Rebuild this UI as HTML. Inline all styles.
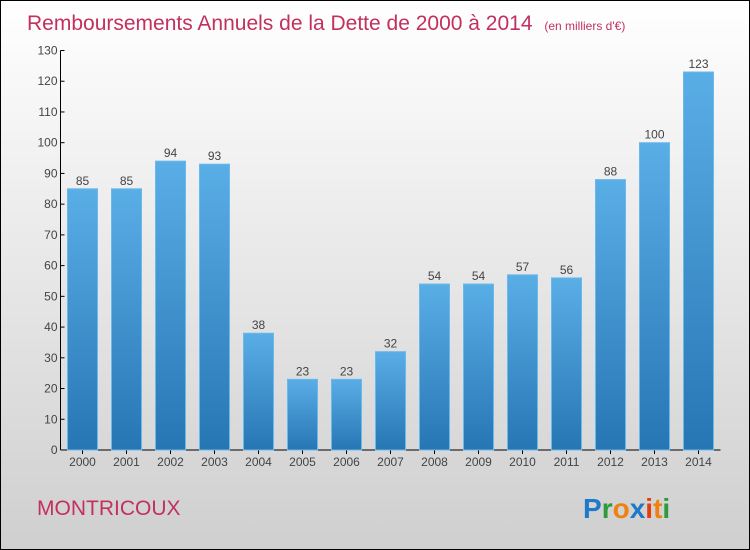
<!DOCTYPE html>
<html><head><meta charset="utf-8"><style>
body{margin:0}
#c{position:relative;width:748px;height:548px;border:1px solid #000;background:linear-gradient(#ffffff,#cfcfcf);font-family:"Liberation Sans",sans-serif;overflow:hidden}
</style></head><body>
<div id="c">
<svg width="748" height="548" style="position:absolute;left:0;top:0">
<defs><linearGradient id="bg" x1="0" y1="0" x2="0" y2="1"><stop offset="0" stop-color="#5aaee6"/><stop offset="1" stop-color="#2676b4"/></linearGradient></defs>
<text x="26" y="29" font-size="21" fill="#c3305e">Remboursements Annuels de la Dette de 2000 à 2014 <tspan font-size="12" dx="6">(en milliers d'€)</tspan></text>
<g id="axes"></g><g id="bars"></g>
<text x="36" y="514" font-size="21" fill="#c3305e">MONTRICOUX</text>
<g font-size="28" font-weight="bold" font-family="Liberation Sans, sans-serif">
<text x="582" y="517"><tspan fill="#1f78c8">P</tspan><tspan fill="#2e9a3c">r</tspan><tspan fill="#f08010">o</tspan><tspan fill="#1f78c8">x</tspan><tspan fill="#e04010">i</tspan><tspan fill="#f08010">t</tspan><tspan fill="#2e9a3c">i</tspan></text></g>
</svg>
</div>
<script>
const categories=["2000","2001","2002","2003","2004","2005","2006","2007","2008","2009","2010","2011","2012","2013","2014"];
const values=[85,85,94,93,38,23,23,32,54,54,57,56,88,100,123];
const yTicks=[0,10,20,30,40,50,60,70,80,90,100,110,120,130];
const NS="http://www.w3.org/2000/svg";
const x0=59.5,y0=449,yTop=49.5,yMax=130,band=44;
const y=v=>y0-(y0-yTop)*v/yMax;
const xb=i=>x0+band*i;
function mk(t,a,p){const e=document.createElementNS(NS,t);for(const k in a)e.setAttribute(k,a[k]);p.appendChild(e);return e;}
const ax=document.getElementById('axes'),bs=document.getElementById('bars');
let l=mk('line',{x1:x0,y1:yTop,x2:x0,y2:y0,stroke:'#000'},ax);


l=mk('line',{x1:x0,y1:y0,x2:x0+band*categories.length,y2:y0,stroke:'#000'},ax);


yTicks.forEach(v=>{
 mk('line',{x1:x0,y1:y(v),x2:x0+4,y2:y(v),stroke:'#000'},ax);
 const t=mk('text',{x:x0-3,y:y(v)+4,'font-size':12,fill:'#444','text-anchor':'end'},ax);
 t.textContent=v;
 
 
});
categories.forEach((c,i)=>{
 const bx=xb(i)+7,v=values[i];
 const r=mk('rect',{x:bx,y:y(v),width:30,height:y0-y(v),fill:'url(#bg)',stroke:'#6cb8ec','stroke-width':1},bs);
 
 
 const tl=mk('text',{x:bx+15,y:y(v)-4,'font-size':12,fill:'#444','text-anchor':'middle'},bs);
 tl.textContent=v;
 
 
 mk('line',{x1:xb(i)+band/2,y1:y0,x2:xb(i)+band/2,y2:y0+4,stroke:'#000'},ax);
 const xl=mk('text',{x:xb(i)+band/2,y:y0+16,'font-size':12,fill:'#444','text-anchor':'middle'},ax);
 xl.textContent=c;
 
 
});
</script>
</body></html>
